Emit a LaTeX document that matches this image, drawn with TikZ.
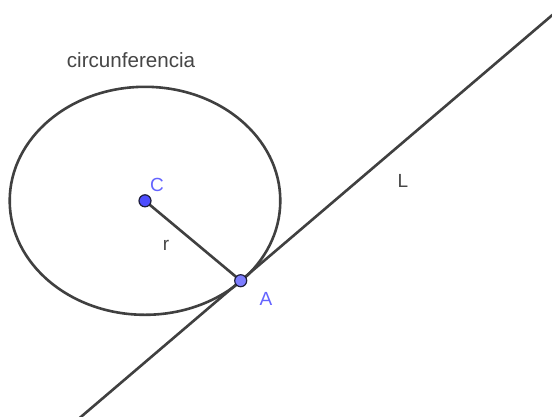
\documentclass[tikz,border=0pt]{standalone}
\usepackage{fontspec}
\setmainfont{Liberation Sans}
\usetikzlibrary{calc}
\begin{document}
\begin{tikzpicture}[x=1pt,y=-1pt,
  geo/.style={draw=geoline,line width=2.6pt},
  ptC/.style={circle,fill=ptblue,draw=ptedge,line width=1.2pt,minimum size=12pt,inner sep=0pt},
  ptA/.style={circle,fill=ptlight,draw=ptedge,line width=1.2pt,minimum size=12pt,inner sep=0pt},
  lab/.style={font=\fontsize{19}{22}\selectfont,inner sep=0pt},
  bluelab/.style={lab,text=labblue},
  graylab/.style={lab,text=labgray}]
\definecolor{geoline}{RGB}{64,64,64}
\definecolor{ptblue}{RGB}{77,77,255}
\definecolor{ptlight}{RGB}{125,125,255}
\definecolor{ptedge}{RGB}{30,30,60}
\definecolor{labblue}{RGB}{100,100,255}
\definecolor{labgray}{RGB}{70,70,70}
\clip (0,0) rectangle (552,416);
\fill[white] (0,0) rectangle (552,416);
\coordinate (C) at (145,200.8);
\coordinate (A) at (240.7,280.7);
\coordinate (L1) at ($(A)+(400,-341)$);
\coordinate (L2) at ($(A)+(-250,213.1)$);
\draw[geo] (C) ellipse [x radius=135.3, y radius=114];
\draw[geo] (L2) -- (L1);
\draw[geo] (C) -- (A);
\node[ptC] (Cp) at (C) {};
\node[ptA] (Ap) at (A) {};
\node[graylab,font=\fontsize{20.6}{24}\selectfont] (circ) at (131,60) {circunferencia};
\node[bluelab] (Clab) at (157,184.5) {C};
\node[bluelab] (Alab) at (266,299) {A};
\node[graylab] (rlab) at (166,245) {r};
\node[graylab] (Llab) at (403,181) {L};
\end{tikzpicture}
\end{document}
